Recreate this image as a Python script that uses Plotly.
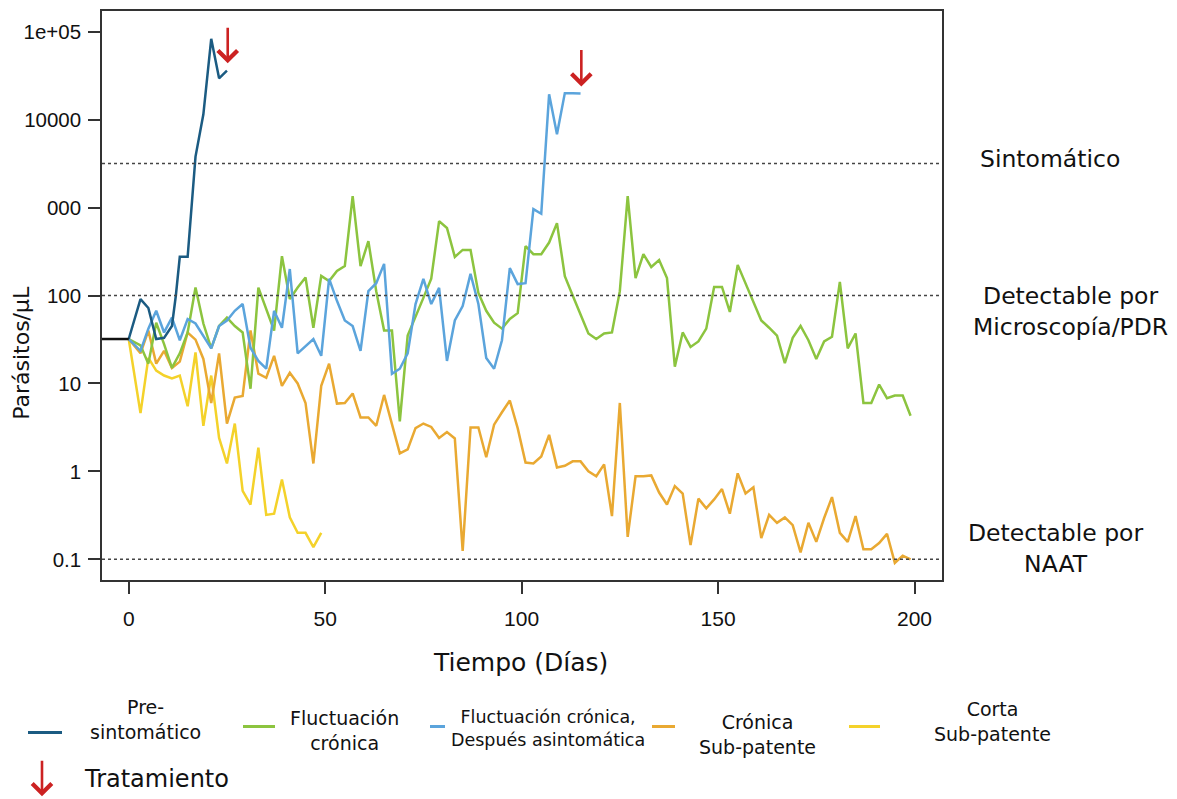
import plotly.graph_objects as go
import numpy as np

# ---------------- data ----------------
pre_days = [0, 3, 5, 7, 9, 11, 12, 13, 15, 17, 19, 21, 23, 25]
pre_vals = [32, 91, 72, 32, 33, 45, 100, 275, 275, 3800, 11500, 83000, 29500, 36000]

green_days = [0] + list(range(3, 200, 2))
green_vals = [32, 27, 16.8, 49, 28, 15, 22, 38, 123, 48, 25, 45, 56, 45, 38, 8.7, 123, 71, 40, 280,
              91, 123, 160, 43, 167, 146, 190, 216, 1350, 216, 415, 112, 40, 40, 3.7, 35, 56, 94, 155, 700,
              585, 275, 330, 330, 107, 67, 49, 42, 54, 63, 365, 295, 295, 400, 665, 166, 100, 62, 37, 32,
              37, 38, 112, 1350, 158, 295, 211, 253, 158, 15.5, 38, 26, 30, 42, 125, 125, 65, 223, 135, 83,
              52, 43, 35, 17, 33, 45, 31, 19, 30, 34, 143, 25, 37, 6.0, 6.0, 9.7, 6.8, 7.3, 7.3, 4.3]

blue_days = [0, 3, 5, 7, 9, 11, 13, 15, 17, 21, 23, 25, 27, 29, 31, 33, 35, 37, 39, 41, 43, 47, 49,
             51, 53, 55, 57, 59, 61, 63, 65, 67, 69, 71, 73, 75, 77, 79, 81, 83, 85, 87, 89, 91, 93,
             95, 97, 99, 101, 103, 105, 107, 109, 111, 113, 115]
blue_vals = [32, 23.5, 42, 67, 38, 56, 31, 54, 48, 25, 45, 52, 67, 80, 25.5, 18, 14.7, 67, 43, 200, 22,
             32, 20.6, 155, 87, 52, 45, 23.5, 112, 138, 229, 12.9, 14.7, 22, 80, 155, 80, 122, 18, 52,
             76, 176, 80, 19.5, 14.7, 31, 205, 135, 138, 960, 850, 19400, 6800, 20000, 20000, 19800]

orange_days = [0] + list(range(3, 200, 2))
orange_vals = [32, 22, 40, 16.8, 23.5, 15, 17.7, 38, 31.5, 19, 6, 22, 3.5, 6.9, 7.2, 40, 12.9, 11.6,
               20.6, 9.4, 13.2, 10, 6, 1.23, 9.4, 16.8, 5.9, 6, 7.7, 4.1, 4.1, 3.3, 7.4, 3.4, 1.6, 1.78,
               3.1, 3.5, 3.2, 2.4, 2.8, 2.37, 0.125, 3.16, 3.16, 1.45, 3.4, 4.7, 6.4, 3.1, 1.26, 1.23,
               1.48, 2.6, 1.11, 1.16, 1.3, 1.3, 1.0, 0.88, 1.2, 0.31, 6, 0.18, 0.88, 0.88, 0.9, 0.575,
               0.42, 0.68, 0.56, 0.145, 0.49, 0.38, 0.48, 0.63, 0.33, 0.95, 0.56, 0.66, 0.174, 0.32,
               0.26, 0.30, 0.245, 0.12, 0.26, 0.158, 0.295, 0.51, 0.2, 0.158, 0.31, 0.13, 0.13, 0.153,
               0.195, 0.091, 0.11, 0.10]

yellow_days = [0] + list(range(3, 50, 2))
yellow_vals = [32, 4.6, 19.5, 14, 12.3, 11.4, 12.3, 5.5, 22.5, 3.3, 12.3, 2.4, 1.23, 3.5, 0.6, 0.42,
               1.86, 0.32, 0.33, 0.81, 0.30, 0.2, 0.2, 0.138, 0.2]

baseline_days = [-7, 0]
baseline_vals = [32, 32]

thresholds = [10 ** 3.5, 100, 0.1]
threshold_labels = ["Sintomático", "Detectable por<br>Microscopía/PDR", "Detectable por<br>NAAT"]

treatment_days = [25.2, 115.2]
treatment_vals = [43600, 23800]

ytick_vals = [0.1, 1, 10, 100, 1000, 10000, 100000]
ytick_text = ["0.1", "1", "10", "100", "000", "10000", "1e+05"]
xtick_vals = [0, 50, 100, 150, 200]

series = [
    ("Corta<br>Sub-patente", yellow_days, yellow_vals, "#f4d22a"),
    ("Crónica<br>Sub-patente", orange_days, orange_vals, "#e9a932"),
    ("Fluctuación<br>crónica", green_days, green_vals, "#8cc43f"),
    ("Fluctuación crónica,<br>Después asintomática", blue_days, blue_vals, "#5ba4dc"),
    ("Pre-<br>sintomático", pre_days, pre_vals, "#1b5b82"),
]

# ---------------- figure ----------------
W, H = 1177, 799
L, R, T, B = 102, 942, 9, 580


def X(px):
    return (px - L) / (R - L)


def Y(py):
    return (B - py) / (B - T)


fig = go.Figure()
for name, d, v, c in series:
    fig.add_trace(go.Scatter(x=d, y=v, mode="lines", name=name,
                             line=dict(color=c, width=2.5), showlegend=False))
fig.add_trace(go.Scatter(x=baseline_days, y=baseline_vals, mode="lines",
                         line=dict(color="#111111", width=2.5), showlegend=False))

shapes = []
for t in thresholds:
    shapes.append(dict(type="line", xref="paper", x0=0, x1=1, yref="y",
                       y0=t, y1=t,
                       line=dict(color="#444444", width=1.5, dash="dot")))

ann = []
label_pos = [(1050, 158), (1070, 311), (1055, 548)]
for txt, (px, py) in zip(threshold_labels, label_pos):
    ann.append(dict(x=X(px), y=Y(py), xref="paper", yref="paper", text=txt, showarrow=False,
                    xanchor="center", yanchor="middle",
                    font=dict(family="DejaVu Sans", size=23.5, color="#111111")))

# treatment arrows
arrow_len = [37, 38]
for d, v, alen in zip(treatment_days, treatment_vals, arrow_len):
    ann.append(dict(x=d, y=np.log10(v), xref="x", yref="y", ax=0, ay=-alen, text="",
                    showarrow=True, arrowhead=4, arrowsize=1.45, arrowwidth=2.6,
                    arrowcolor="#cc2222"))

# legend
leg_lines = [(28, 62, 733), (243, 275, 727), (430, 445, 727), (652, 675, 727), (849, 880, 727)]
leg_text = [(145, 720), (344, 731), (548, 729), (757, 735), (992, 722)]
leg_order = [4, 2, 3, 1, 0]
for i, idx in enumerate(leg_order):
    name, d, v, c = series[idx]
    x0, x1, yy = leg_lines[i]
    shapes.append(dict(type="line", xref="paper", yref="paper", x0=X(x0), x1=X(x1),
                       y0=Y(yy), y1=Y(yy), line=dict(color=c, width=3)))
    tx, ty = leg_text[i]
    fs = 17.5 if idx == 3 else 19
    ann.append(dict(x=X(tx), y=Y(ty), xref="paper", yref="paper", text=name, showarrow=False,
                    xanchor="center", yanchor="middle",
                    font=dict(family="DejaVu Sans", size=fs, color="#111111")))

ann.append(dict(x=X(42), y=Y(797), xref="paper", yref="paper", ax=0, ay=-37, text="",
                showarrow=True, arrowhead=4, arrowsize=1.45, arrowwidth=2.6, arrowcolor="#cc2222"))
ann.append(dict(x=X(82), y=Y(780), xref="paper", yref="paper", text="Tratamiento", showarrow=False,
                xanchor="left", yanchor="middle",
                font=dict(family="DejaVu Sans", size=24, color="#111111")))

# axis titles
ann.append(dict(x=X(520), y=Y(663), xref="paper", yref="paper", text="Tiempo (Días)",
                showarrow=False, xanchor="center", yanchor="middle",
                font=dict(family="DejaVu Sans", size=25, color="#111111")))
ann.append(dict(x=X(22), y=Y(352), xref="paper", yref="paper", text="Parásitos/μL",
                showarrow=False, xanchor="center", yanchor="middle", textangle=-90,
                font=dict(family="DejaVu Sans", size=22, color="#111111")))

axis_common = dict(showgrid=False, zeroline=False, showline=True, linecolor="#333333",
                   linewidth=1.5, mirror=True, ticks="outside", tickcolor="#333333",
                   tickwidth=1.5, ticklen=12)

fig.update_layout(
    width=W, height=H,
    margin=dict(l=L, r=W - R, t=T, b=H - B, pad=0),
    paper_bgcolor="white", plot_bgcolor="white",
    shapes=shapes, annotations=ann, showlegend=False,
    xaxis=dict(range=[-6.8, 207], tickvals=xtick_vals, ticklabelstandoff=7,
               tickfont=dict(family="Liberation Sans", size=21, color="#111111"), **axis_common),
    yaxis=dict(type="log", range=[-1.235, 5.235], tickvals=ytick_vals, ticktext=ytick_text,
               ticklabelstandoff=3,
               tickfont=dict(family="Liberation Sans", size=20.5, color="#111111"), **axis_common),
)

fig.write_html("out.html")
